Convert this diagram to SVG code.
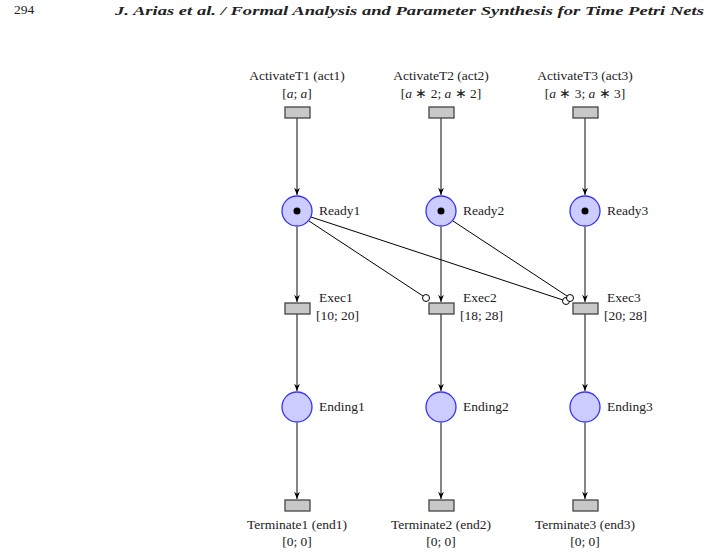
<svg xmlns="http://www.w3.org/2000/svg" width="728" height="555" viewBox="0 0 728 555">
<defs>
<marker id="ar" viewBox="0 0 10 10" refX="10" refY="5" markerWidth="6" markerHeight="6" orient="auto"><path d="M0,1 L10,5 L0,9 L3,5 z" fill="#000"/></marker>
</defs>
<style>
text{font-family:"Liberation Serif",serif;font-size:13.5px;fill:#222}
.t{fill:#c8c8c8;stroke:#444;stroke-width:1.3}
.p{fill:#ccccff;stroke:#3333ee;stroke-width:1.3}
.a{stroke:#333;stroke-width:1.2;fill:none;marker-end:url(#ar)}
.i{stroke:#000;stroke-width:1;fill:none}
.c{fill:#fff;stroke:#000;stroke-width:1}
.m{text-anchor:middle}
</style>
<rect width="728" height="555" fill="#fff"/>
<text x="14" y="14" font-size="14">294</text>
<text x="115" y="15" font-size="16" font-style="italic" font-weight="bold" textLength="589" lengthAdjust="spacingAndGlyphs">J. Arias et al. / Formal Analysis and Parameter Synthesis for Time Petri Nets</text>
<g id="connectors">
<line class="a" x1="297" y1="117" x2="297" y2="195"/>
<line class="a" x1="441" y1="117" x2="441" y2="195"/>
<line class="a" x1="585" y1="117" x2="585" y2="195"/>
<line class="a" x1="297" y1="227" x2="297" y2="302"/>
<line class="a" x1="441" y1="227" x2="441" y2="302"/>
<line class="a" x1="585" y1="227" x2="585" y2="302"/>
<line class="a" x1="297" y1="313" x2="297" y2="391"/>
<line class="a" x1="441" y1="313" x2="441" y2="391"/>
<line class="a" x1="585" y1="313" x2="585" y2="391"/>
<line class="a" x1="297" y1="423" x2="297" y2="499"/>
<line class="a" x1="441" y1="423" x2="441" y2="499"/>
<line class="a" x1="585" y1="423" x2="585" y2="499"/>
<line class="i" x1="309" y1="221" x2="423" y2="296"/>
<circle class="c" cx="426" cy="298" r="3.5"/>
<line class="i" x1="311" y1="217" x2="563" y2="300"/>
<circle class="c" cx="566" cy="301" r="3.5"/>
<line class="i" x1="453" y1="221" x2="567" y2="296"/>
<circle class="c" cx="570" cy="298" r="3.5"/>
</g>
<g id="act1"><rect class="t" x="285" y="107" width="25" height="11"/><text class="m" x="297" y="80">ActivateT1 (act1)</text><text class="m" x="297" y="98">[<tspan font-style="italic">a</tspan>; <tspan font-style="italic">a</tspan>]</text></g>
<g id="act2"><rect class="t" x="429" y="107" width="25" height="11"/><text class="m" x="441" y="80">ActivateT2 (act2)</text><text class="m" x="441" y="98">[<tspan font-style="italic">a</tspan> ∗ 2; <tspan font-style="italic">a</tspan> ∗ 2]</text></g>
<g id="act3"><rect class="t" x="573" y="107" width="25" height="11"/><text class="m" x="585" y="80">ActivateT3 (act3)</text><text class="m" x="585" y="98">[<tspan font-style="italic">a</tspan> ∗ 3; <tspan font-style="italic">a</tspan> ∗ 3]</text></g>
<g id="ready1"><circle class="p" cx="297" cy="211" r="15"/><circle cx="297" cy="211" r="3.5"/><text x="319" y="215">Ready1</text></g>
<g id="ready2"><circle class="p" cx="441" cy="211" r="15"/><circle cx="441" cy="211" r="3.5"/><text x="463" y="215">Ready2</text></g>
<g id="ready3"><circle class="p" cx="585" cy="211" r="15"/><circle cx="585" cy="211" r="3.5"/><text x="607" y="215">Ready3</text></g>
<g id="exec1"><rect class="t" x="285" y="303" width="25" height="11"/><text x="319" y="302">Exec1</text><text x="316" y="320">[10; 20]</text></g>
<g id="exec2"><rect class="t" x="429" y="303" width="25" height="11"/><text x="463" y="302">Exec2</text><text x="460" y="320">[18; 28]</text></g>
<g id="exec3"><rect class="t" x="573" y="303" width="25" height="11"/><text x="607" y="302">Exec3</text><text x="604" y="320">[20; 28]</text></g>
<g id="ending1"><circle class="p" cx="297" cy="407" r="15"/><text x="319" y="411">Ending1</text></g>
<g id="ending2"><circle class="p" cx="441" cy="407" r="15"/><text x="463" y="411">Ending2</text></g>
<g id="ending3"><circle class="p" cx="585" cy="407" r="15"/><text x="607" y="411">Ending3</text></g>
<g id="end1"><rect class="t" x="285" y="500" width="25" height="11"/><text class="m" x="297" y="529">Terminate1 (end1)</text><text class="m" x="297" y="546">[0; 0]</text></g>
<g id="end2"><rect class="t" x="429" y="500" width="25" height="11"/><text class="m" x="441" y="529">Terminate2 (end2)</text><text class="m" x="441" y="546">[0; 0]</text></g>
<g id="end3"><rect class="t" x="573" y="500" width="25" height="11"/><text class="m" x="585" y="529">Terminate3 (end3)</text><text class="m" x="585" y="546">[0; 0]</text></g>
</svg>
